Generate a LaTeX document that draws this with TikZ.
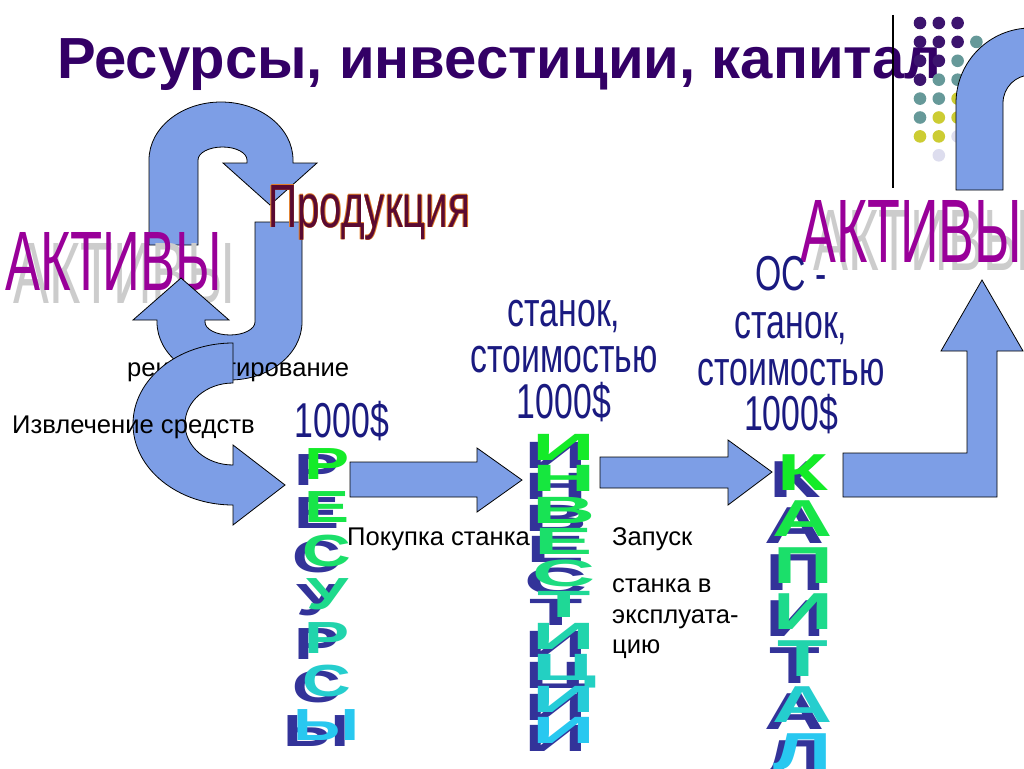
\documentclass[tikz,border=0pt]{standalone}
\usepackage{graphicx}
\usepackage{fontspec}
\setmainfont{Liberation Sans}
\newfontfamily\narrowsans[FakeStretch=0.69]{Liberation Sans}

\definecolor{titlepurple}{RGB}{51,0,102}
\definecolor{arrowblue}{RGB}{125,158,230}
\definecolor{aktivpurple}{RGB}{153,0,153}
\definecolor{navytext}{RGB}{26,26,128}
\definecolor{shadownavy}{RGB}{51,51,153}
\definecolor{topgreen}{RGB}{20,235,40}
\definecolor{botcyan}{RGB}{40,200,240}
\definecolor{dotpurple}{RGB}{60,20,110}
\definecolor{dotteal}{RGB}{102,153,153}
\definecolor{dotyellow}{RGB}{204,204,51}
\definecolor{dotlilac}{RGB}{221,221,238}
\definecolor{prodfill}{RGB}{90,10,50}
\definecolor{prodedge}{RGB}{225,125,40}

\tikzset{
  blockarrow/.style={fill=arrowblue,draw=black,line width=0.8pt,line join=miter},
  slidetext/.style={font=\fontsize{25.6}{30}\selectfont,inner sep=0pt,anchor=base west},
  navylabel/.style={font=\narrowsans\fontsize{49}{47}\selectfont,text=navytext,inner sep=0pt,anchor=base},
  wordart/.style={inner sep=0pt,anchor=base west},
  letterbox/.style={inner sep=0pt,anchor=base,font=\bfseries\fontsize{#1}{#1}\selectfont},
}

\begin{document}
\begin{tikzpicture}[x=1pt,y=-1pt]
\clip (0,0) rectangle (1024,768);
\fill[white] (0,0) rectangle (1024,768);

\node[anchor=base west,inner sep=0pt,text=titlepurple,font=\bfseries\fontsize{58}{60}\selectfont] (title) at (57,78) {Ресурсы, инвестиции, капитал};

%---------------------------------
\draw[line width=1.5pt] (893,15) -- (893,188);
\foreach \r in {0,...,7}{
  \foreach \c in {0,...,3}{
    \pgfmathtruncatemacro\s{\r+\c}
    \pgfmathtruncatemacro\dotoff{((\r==0 && \c==3) || (\r==7 && \c!=1)) ? 1 : 0}
    \ifnum\s<4 \def\dotcol{dotpurple}\else\ifnum\s<6 \def\dotcol{dotteal}\else\ifnum\s<8 \def\dotcol{dotyellow}\else\def\dotcol{dotlilac}\fi\fi\fi
    \ifnum\dotoff=0
      \fill[\dotcol] ({920+18.8*\c},{23+18.9*\r}) circle (6.3);
    \fi
  }
}

\draw[blockarrow] (956,190) -- (956,103) arc[start angle=180,end angle=270,radius=75] -- (1035,28) -- (1035,75) -- (1031,75) arc[start angle=270,end angle=180,radius=28] -- (1003,190) -- cycle;

%---------------------------------
% loop of arrows on the left
\draw[blockarrow] (149,245) -- (149,160) arc[start angle=180,end angle=360,x radius=72,y radius=58] -- (293,163) -- (317,163) -- (270,205) -- (223,163) -- (247,163) -- (247,160) arc[start angle=0,end angle=-180,x radius=24.5,y radius=13] -- (198,245) -- cycle;

\node[wordart,text=gray!40] (aktivyl-sh) at (13,303) {\resizebox{222pt}{60pt}{АКТИВЫ}};
\node[wordart,text=aktivpurple] (aktivyl) at (5,290) {\resizebox{217pt}{58pt}{АКТИВЫ}};

\draw[blockarrow] (302,222) -- (302,322) arc[start angle=0,end angle=180,x radius=72.5,y radius=58] -- (157,320) -- (133,320) -- (181,278) -- (229,320) -- (205,320) -- (205,322) arc[start angle=180,end angle=0,x radius=25,y radius=13] -- (255,222) -- cycle;

\foreach \dx/\dy [count=\k] in {-0.6/0,0.6/0,0/-0.6,0/0.6}
  \node[wordart,text=prodedge] (prod-edge-\k) at (268+\dx,227+\dy) {\resizebox{202pt}{42pt}{Продукция}};
\node[wordart,text=prodfill] (prod) at (268,227) {\resizebox{202pt}{42pt}{Продукция}};

\node[slidetext] (reinvest) at (127,376) {реинвестирование};

\draw[blockarrow] (233,343) arc[start angle=270,end angle=90,x radius=100,y radius=81] -- (233,525) -- (285,485) -- (233,445) -- (233,465) arc[start angle=90,end angle=270,x radius=48,y radius=41] -- cycle;

\node[slidetext] (izvlech) at (12,433) {Извлечение средств};

%---------------------------------
\draw[blockarrow] (350,462) -- (477,462) -- (477,448) -- (522,480) -- (477,512) -- (477,497) -- (350,497) -- cycle;
\draw[blockarrow] (600,457) -- (728,457) -- (728,440) -- (772,472) -- (728,505) -- (728,488) -- (600,488) -- cycle;
\draw[blockarrow] (843,453) -- (967,453) -- (967,351) -- (941,351) -- (982,280) -- (1023,351) -- (997,351) -- (997,497) -- (843,497) -- cycle;

\node[wordart,text=gray!40] (aktivyr-sh) at (813,270) {\resizebox{217pt}{60pt}{АКТИВЫ}};
\node[wordart,text=aktivpurple] (aktivyr) at (800,262) {\resizebox{222pt}{62pt}{АКТИВЫ}};

%---------------------------------
\node[navylabel] (sum) at (342,437) {1000\$};
\node[navylabel] (stanok-1) at (564,326) {станок,};
\node[navylabel] (stanok-2) at (564,372) {стоимостью};
\node[navylabel] (stanok-3) at (564,418) {1000\$};
\node[navylabel] (os-1) at (791,290) {ОС -};
\node[navylabel] (os-2) at (791,338) {станок,};
\node[navylabel] (os-3) at (791,385) {стоимостью};
\node[navylabel] (os-4) at (791,430) {1000\$};

%---------------------------------
% vertical words
\foreach \ch [count=\i] in {Р,Е,С,У,Р,С,Ы}{
  \pgfmathtruncatemacro\pct{100*(\i-1)/6}
  \colorlet{lettercol}{botcyan!\pct!topgreen}
  \node[letterbox=45,text=shadownavy] (res-sh-\i) at (317,{485+43.5*(\i-1)}) {\scalebox{1.5}[1]{\ch}};
  \node[letterbox=45,text=lettercol] (res-\i) at (327,{479+43.5*(\i-1)}) {\scalebox{1.5}[1]{\ch}};
}
\foreach \ch [count=\i] in {И,Н,В,Е,С,Т,И,Ц,И,И}{
  \pgfmathtruncatemacro\pct{100*(\i-1)/9}
  \colorlet{lettercol}{botcyan!\pct!topgreen}
  \node[letterbox=38,text=shadownavy] (inv-sh-\i) at (556,{468+31.5*(\i-1)}) {\scalebox{2.3}[1]{\ch}};
  \node[letterbox=38,text=lettercol] (inv-\i) at (564,{460+31.5*(\i-1)}) {\scalebox{2.3}[1]{\ch}};
}
\foreach \ch [count=\i] in {К,А,П,И,Т,А,Л}{
  \pgfmathtruncatemacro\pct{100*(\i-1)/6}
  \colorlet{lettercol}{botcyan!\pct!topgreen}
  \node[letterbox=52,text=shadownavy] (kap-sh-\i) at (795,{497+46.5*(\i-1)}) {\scalebox{1.6}[1]{\ch}};
  \node[letterbox=52,text=lettercol] (kap-\i) at (803,{490+46.5*(\i-1)}) {\scalebox{1.6}[1]{\ch}};
}

%---------------------------------
\node[slidetext] (pokupka) at (347,545) {Покупка станка};
\node[slidetext] (zapusk) at (612,545) {Запуск};
\node[slidetext] (stanka) at (612,592) {станка в};
\node[slidetext] (ekspl) at (612,623) {эксплуата-};
\node[slidetext] (tsiyu) at (612,653) {цию};
\end{tikzpicture}
\end{document}
